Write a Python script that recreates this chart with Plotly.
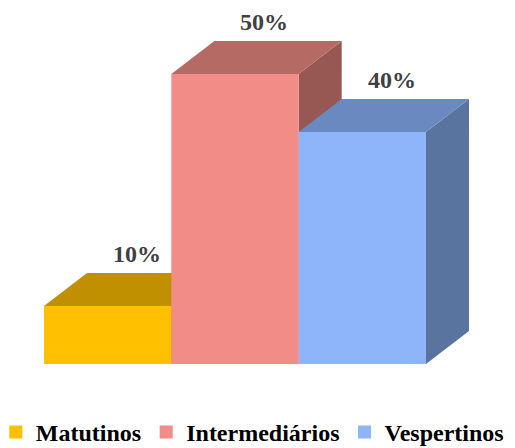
import plotly.graph_objects as go

categories = ["Matutinos", "Intermediários", "Vespertinos"]
values = [10, 50, 40]
labels = ["10%", "50%", "40%"]

front_colors = ["#FFC000", "#F28C86", "#8EB4FA"]
top_colors = ["#C09000", "#B56A63", "#6A89C0"]
side_colors = ["#9A7400", "#975853", "#5A74A0"]

# 3D depth offsets (in axis units)
DX = 0.338
DY = 5.69

fig = go.Figure()

for i, v in enumerate(values):
    x0, x1 = i - 0.5, i + 0.5
    faces = [
        ([x1, x1 + DX, x1 + DX, x1, x1], [0, DY, v + DY, v, 0], side_colors[i]),
        ([x0, x0 + DX, x1 + DX, x1, x0], [v, v + DY, v + DY, v, v], top_colors[i]),
        ([x0, x1, x1, x0, x0], [0, 0, v, v, 0], front_colors[i]),
    ]
    for xs, ys, c in faces:
        fig.add_trace(go.Scatter(
            x=xs, y=ys, mode="lines", fill="toself", fillcolor=c,
            line=dict(width=0, color=c), hoverinfo="skip", showlegend=False,
        ))

for i, name in enumerate(categories):
    fig.add_trace(go.Scatter(
        x=[None], y=[None], mode="markers", name="<b>" + name + "</b>",
        marker=dict(symbol="square", size=13, color=front_colors[i]),
    ))

for i, v in enumerate(values):
    fig.add_annotation(
        x=i + 0.23, y=v + DY, text="<b>" + labels[i] + "</b>", showarrow=False,
        yanchor="bottom", yshift=4,
        font=dict(family="Liberation Serif", size=24, color="#404040"),
    )

fig.update_layout(
    width=515, height=448,
    margin=dict(l=0, r=0, t=0, b=0, autoexpand=False),
    paper_bgcolor="white", plot_bgcolor="white",
    font=dict(family="Liberation Serif"),
    showlegend=True,
    legend=dict(
        orientation="h", x=0.49, xanchor="center",
        yref="container", y=0.035, yanchor="middle",
        font=dict(family="Liberation Serif", size=24, color="#000000"),
        itemwidth=30, tracegroupgap=0, bgcolor="rgba(0,0,0,0)",
    ),
    xaxis=dict(range=[-0.8456, 3.1991], visible=False, fixedrange=True),
    yaxis=dict(range=[-14.48, 62.76], visible=False, fixedrange=True),
)

fig.write_html("out.html")
